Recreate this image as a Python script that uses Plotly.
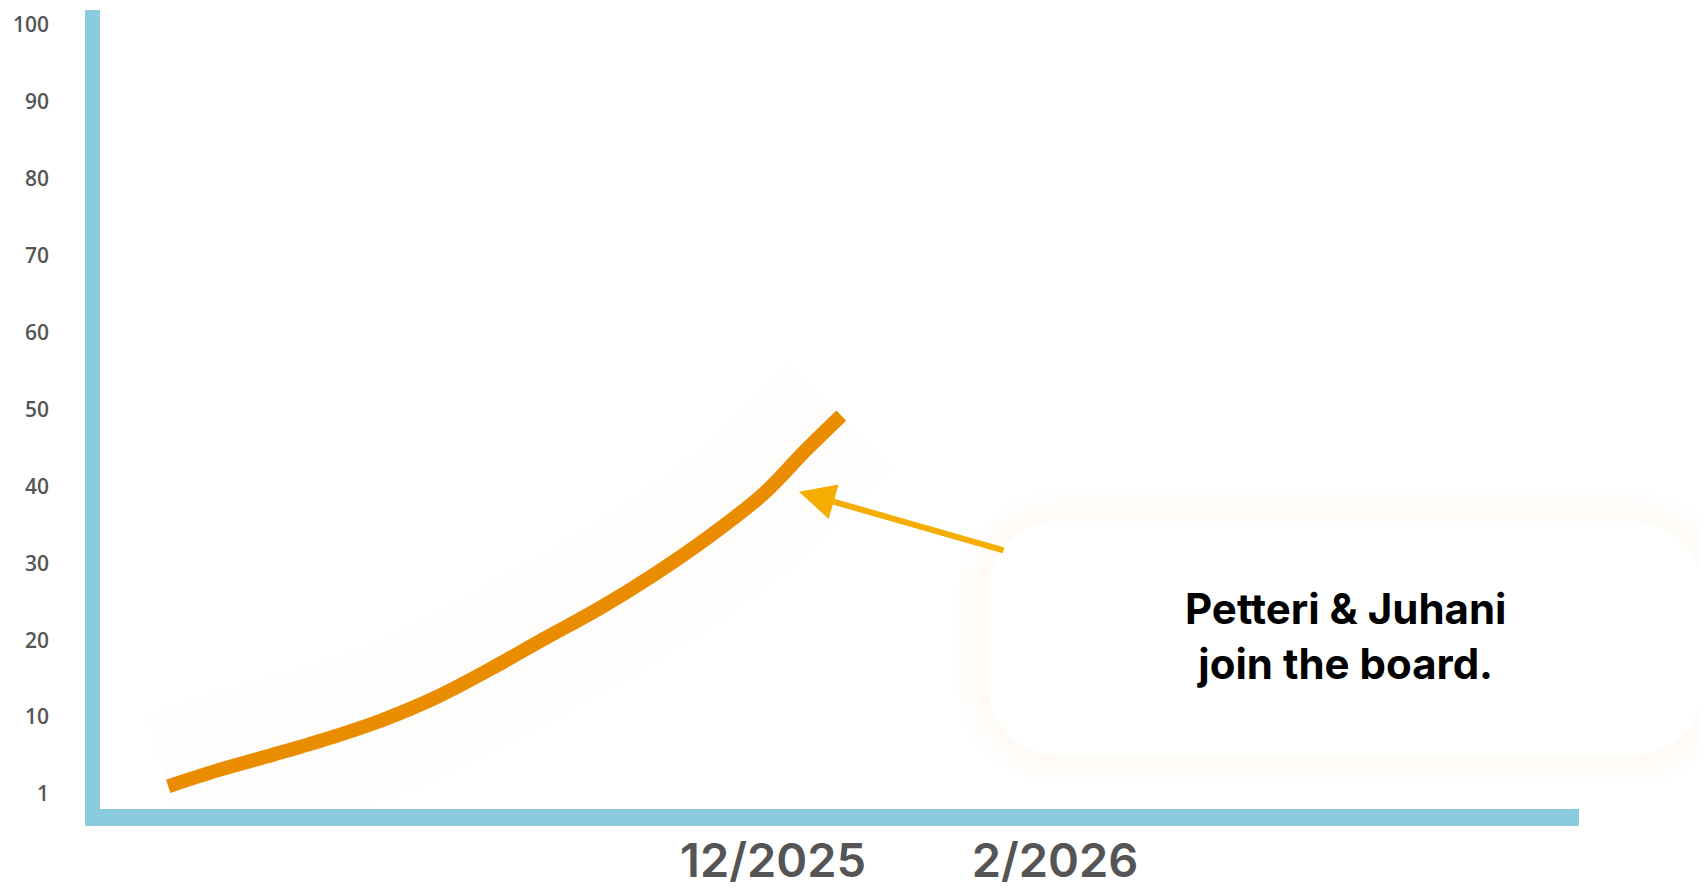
import plotly.graph_objects as go

# ---- data ----
dates = ["2025-07-21", "2025-08-01", "2025-08-13", "2025-08-25", "2025-09-06",
         "2025-09-18", "2025-09-30", "2025-10-12", "2025-10-24", "2025-11-05",
         "2025-11-17", "2025-11-29", "2025-12-08", "2025-12-16"]
values = [1.0, 3.1, 5.1, 7.2, 9.6, 12.6, 16.3, 20.3, 24.2, 28.6, 33.5, 39.1, 44.6, 49.2]

y_tickvals = [0, 10, 20, 30, 40, 50, 60, 70, 80, 90, 100]
y_ticktext = ["1", "10", "20", "30", "40", "50", "60", "70", "80", "90", "100"]
x_tickvals = ["2025-12-01", "2026-02-01"]
x_ticktext = ["12/2025", "2/2026"]

callout_text = "Petteri &amp; Juhani<br>join the board."
arrow_date = "2025-12-06 17:00"
arrow_value = 39.3

# ---- layout geometry (page pixels; the page body has an 8px margin) ----
OFF = 8
W, H = 1700, 881
L, R, T, B = 100 - OFF, 1579 - OFF, 10 - OFF, 809 - OFF
PW, PH = R - L, B - T


def px_x(p):
    return (p - OFF - L) / PW


def px_y(p):
    return (B - (p - OFF)) / PH


def rounded_rect(x0, y0, x1, y1, r):
    k = 0.5523 * r
    X, Y = px_x, px_y
    return (f"M{X(x0 + r)},{Y(y0)} L{X(x1 - r)},{Y(y0)} "
            f"C{X(x1 - r + k)},{Y(y0)} {X(x1)},{Y(y0 + r - k)} {X(x1)},{Y(y0 + r)} "
            f"L{X(x1)},{Y(y1 - r)} "
            f"C{X(x1)},{Y(y1 - r + k)} {X(x1 - r + k)},{Y(y1)} {X(x1 - r)},{Y(y1)} "
            f"L{X(x0 + r)},{Y(y1)} "
            f"C{X(x0 + r - k)},{Y(y1)} {X(x0)},{Y(y1 - r + k)} {X(x0)},{Y(y1 - r)} "
            f"L{X(x0)},{Y(y0 + r)} "
            f"C{X(x0)},{Y(y0 + r - k)} {X(x0 + r - k)},{Y(y0)} {X(x0 + r)},{Y(y0)} Z")


fig = go.Figure()

# very faint glow under the line
for w, op in [(150, 0.015), (100, 0.015), (60, 0.015)]:
    fig.add_trace(go.Scatter(x=dates, y=values, mode="lines",
                             line=dict(color=f"rgba(235,222,210,{op})", width=w,
                                       shape="spline", smoothing=1.0),
                             hoverinfo="skip", showlegend=False))
fig.add_trace(go.Scatter(x=dates, y=values, mode="lines",
                         line=dict(color="#EA8C00", width=14, shape="spline", smoothing=1.0),
                         showlegend=False))

shapes = []
# soft box shadow
for grow, op in [(30, 0.05), (20, 0.07), (10, 0.10)]:
    shapes.append(dict(type="path", xref="paper", yref="paper", layer="below",
                       path=rounded_rect(988 - grow, 521 - grow, 1703 + grow, 755 + grow, 70 + grow),
                       fillcolor=f"rgba(248,232,215,{op})", line=dict(width=0)))
shapes.append(dict(type="path", xref="paper", yref="paper", layer="below",
                   path=rounded_rect(988, 521, 1703, 755, 70),
                   fillcolor="#FFFFFF", line=dict(width=0)))
# axis bars
shapes.append(dict(type="rect", xref="paper", yref="paper", layer="above",
                   x0=px_x(85), x1=px_x(100), y0=px_y(826), y1=px_y(10),
                   fillcolor="#8ACCDD", line=dict(width=0)))
shapes.append(dict(type="rect", xref="paper", yref="paper", layer="above",
                   x0=px_x(85), x1=px_x(1579), y0=px_y(826), y1=px_y(809),
                   fillcolor="#8ACCDD", line=dict(width=0)))

annotations = [
    dict(x=arrow_date, y=arrow_value, xref="x", yref="y", text="", showarrow=True,
         ax=206, ay=59, arrowcolor="#F5AD00", arrowwidth=6, arrowhead=2,
         arrowsize=1.2, standoff=0),
    dict(x=px_x(1345), y=px_y(636), xref="paper", yref="paper", text=callout_text,
         showarrow=False, xanchor="center", yanchor="middle", align="center",
         font=dict(family="Inter", size=42, color="#000000", weight=700)),
]

fig.update_layout(
    width=W, height=H,
    margin=dict(l=L, r=W - R, t=T, b=H - B, pad=0, autoexpand=False),
    paper_bgcolor="#FFFFFF", plot_bgcolor="#FFFFFF",
    shapes=shapes, annotations=annotations,
    xaxis=dict(type="date", range=["2025-07-06", "2026-05-27 05:00"], automargin=False,
               tickvals=x_tickvals, ticktext=x_ticktext, showgrid=False, zeroline=False,
               showline=False, ticks="", ticklabelstandoff=20,
               tickfont=dict(family="Inter", size=47, color="#555555", weight=600)),
    yaxis=dict(range=[-1.95, 101.95], tickvals=y_tickvals, ticktext=y_ticktext, automargin=False,
               showgrid=False, zeroline=False, showline=False, ticks="",
               ticklabelstandoff=50,
               tickfont=dict(family="Open Sans", size=21, color="#555555", weight=600)),
    showlegend=False,
)

fig.write_html("out.html")
